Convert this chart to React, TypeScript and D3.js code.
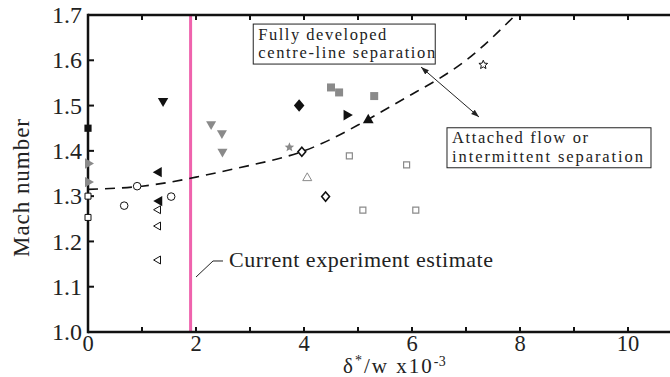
import React from "react";
import * as d3 from "d3";

// ---- axis ticks ----
const xTickValues = [0, 1, 2, 3, 4, 5, 6, 7, 8, 9, 10, 11];
const xTickLabels = ["0", "", "2", "", "4", "", "6", "", "8", "", "10", ""];
const yTickValues = [1.0, 1.1, 1.2, 1.3, 1.4, 1.5, 1.6, 1.7];
const yTickLabels = ["1.0", "1.1", "1.2", "1.3", "1.4", "1.5", "1.6", "1.7"];

// ---- separation boundary (dashed curve) ----
const curveX = [0, 1, 2, 3, 4, 5, 6, 7, 8];
const curveY = [1.315, 1.322, 1.342, 1.368, 1.4, 1.457, 1.525, 1.6, 1.71];

// ---- current experiment estimate ----
const currentEstimate = 1.9;

// ---- data series (x = delta*/w x1e-3, y = Mach) ----
const filledSquareBlack = [[0, 1.45]];
const grayRightTri = [[0, 1.372], [0, 1.331]];
const openSquareAxis = [[0, 1.3], [0, 1.253]];
const openCircle = [[0.67, 1.279], [0.91, 1.322], [1.54, 1.299]];
const filledDownTri = [[1.39, 1.51]];
const filledLeftTri = [[1.31, 1.353], [1.32, 1.289]];
const openLeftTri = [[1.3, 1.27], [1.3, 1.234], [1.3, 1.159]];
const grayDownTri = [[2.28, 1.459], [2.48, 1.439], [2.49, 1.398]];
const grayStar = [[3.73, 1.408]];
const filledDiamond = [[3.91, 1.5]];
const openDiamond = [[3.96, 1.398], [4.4, 1.299]];
const openGrayTriUp = [[4.06, 1.34]];
const graySquare = [[4.5, 1.54], [4.65, 1.529], [5.3, 1.521]];
const filledRightTri = [[4.79, 1.479]];
const filledUpTri = [[5.19, 1.468]];
const openGraySquare = [[4.84, 1.389], [5.9, 1.369], [5.09, 1.269], [6.07, 1.269]];
const openStar = [[7.32, 1.59]];

// ---- annotation anchors (data units) ----
const box1Anchor = [3.06, 1.68];
const box1Lines = ["Fully developed", "centre-line separation"];
const box1Widths = [128, 177];
const box2Anchor = [6.648, 1.451];
const box2Lines = ["Attached flow or", "intermittent separation"];
const box2Widths = [136, 191];
const arrowFrom = [6.167, 1.5851];
const arrowTo = [7.241, 1.4747];
const leaderPts = [[2.0, 1.1214], [2.315, 1.1568], [2.5, 1.1568]];
const leaderText = "Current experiment estimate";
const leaderTextAnchor = [2.611, 1.1435];

const W = 670;
const H = 377;
const FONT = "'Liberation Serif', 'DejaVu Serif', serif";
const BLACK = "#111";
const GRAY = "#8a8a8a";
const PINK = "#ef63ad";

const x = d3.scaleLinear().domain([0, 11]).range([88, 682]);
const y = d3.scaleLinear().domain([1.0, 1.7]).range([332, 15]);

type Shape =
  | "square"
  | "circle"
  | "diamond"
  | "triUp"
  | "triDown"
  | "triLeft"
  | "triRight"
  | "star";

function shapePath(shape: Shape, r: number): string {
  const pts = (arr: number[][]) =>
    "M" + arr.map((p) => `${p[0].toFixed(2)},${p[1].toFixed(2)}`).join("L") + "Z";
  const tri = (rot: number) => {
    const a = [-90, 30, 150].map((d) => ((d + rot) * Math.PI) / 180);
    return pts(a.map((t) => [r * Math.cos(t), r * Math.sin(t)]));
  };
  switch (shape) {
    case "square":
      return pts([[-r, -r], [r, -r], [r, r], [-r, r]]);
    case "circle":
      return `M${r},0A${r},${r} 0 1,1 ${-r},0A${r},${r} 0 1,1 ${r},0Z`;
    case "diamond":
      return pts([[0, -r], [r * 0.85, 0], [0, r], [-r * 0.85, 0]]);
    case "triUp":
      return tri(0);
    case "triRight":
      return tri(90);
    case "triDown":
      return tri(180);
    case "triLeft":
      return tri(270);
    case "star": {
      const arr: number[][] = [];
      for (let i = 0; i < 10; i++) {
        const rr = i % 2 === 0 ? r : r * 0.45;
        const t = (-90 + i * 36) * (Math.PI / 180);
        arr.push([rr * Math.cos(t), rr * Math.sin(t)]);
      }
      return pts(arr);
    }
  }
  return "";
}

interface SeriesStyle {
  data: number[][];
  shape: Shape;
  r: number;
  fill: string;
  stroke: string;
  sw: number;
}

const seriesList: SeriesStyle[] = [
  { data: openSquareAxis, shape: "square", r: 3, fill: "white", stroke: BLACK, sw: 1 },
  { data: filledSquareBlack, shape: "square", r: 3.6, fill: BLACK, stroke: "none", sw: 0 },
  { data: grayRightTri, shape: "triRight", r: 6, fill: GRAY, stroke: "none", sw: 0 },
  { data: openCircle, shape: "circle", r: 3.8, fill: "white", stroke: BLACK, sw: 1 },
  { data: filledDownTri, shape: "triDown", r: 6, fill: BLACK, stroke: "none", sw: 0 },
  { data: filledLeftTri, shape: "triLeft", r: 6, fill: BLACK, stroke: "none", sw: 0 },
  { data: openLeftTri, shape: "triLeft", r: 4.6, fill: "white", stroke: BLACK, sw: 1 },
  { data: grayDownTri, shape: "triDown", r: 5.8, fill: GRAY, stroke: "none", sw: 0 },
  { data: grayStar, shape: "star", r: 5, fill: GRAY, stroke: "none", sw: 0 },
  { data: filledDiamond, shape: "diamond", r: 6.2, fill: BLACK, stroke: "none", sw: 0 },
  { data: openDiamond, shape: "diamond", r: 4.6, fill: "white", stroke: BLACK, sw: 1.6 },
  { data: openGrayTriUp, shape: "triUp", r: 5.2, fill: "white", stroke: GRAY, sw: 1 },
  { data: graySquare, shape: "square", r: 4, fill: GRAY, stroke: "none", sw: 0 },
  { data: filledRightTri, shape: "triRight", r: 6.2, fill: BLACK, stroke: "none", sw: 0 },
  { data: filledUpTri, shape: "triUp", r: 6.2, fill: BLACK, stroke: "none", sw: 0 },
  { data: openGraySquare, shape: "square", r: 3, fill: "white", stroke: GRAY, sw: 1.2 },
  { data: openStar, shape: "star", r: 4.6, fill: "white", stroke: BLACK, sw: 1 },
];

const BOX_FONT = 16.5;
const BOX_LINE = 18.4;

function Box({
  anchor,
  lines,
  widths,
  w,
  h,
}: {
  anchor: number[];
  lines: string[];
  widths: number[];
  w: number;
  h: number;
}) {
  const bx = x(anchor[0]);
  const by = y(anchor[1]);
  return (
    <g>
      <rect x={bx} y={by} width={w} height={h} fill="white" stroke="#222" strokeWidth={1} />
      {lines.map((l, i) => (
        <text
          key={i}
          x={bx + 5}
          y={by + 15.5 + i * BOX_LINE}
          fontSize={BOX_FONT}
          fontFamily={FONT}
          fill="#222"
          textLength={widths[i]}
          lengthAdjust="spacing"
        >
          {l}
        </text>
      ))}
    </g>
  );
}

export default function App() {
  const line = d3
    .line<number>()
    .x((_, i) => x(curveX[i]))
    .y((d) => y(d))
    .curve(d3.curveNatural);
  const leader = d3
    .line<number[]>()
    .x((d) => x(d[0]))
    .y((d) => y(d[1]));

  const x0 = x(0);
  const xr = x(11);
  const yb = y(1.0);
  const yt = y(1.7);

  return (
    <div style={{ position: "absolute", left: 0, top: 0, width: W, height: H, overflow: "hidden" }}>
      <svg width={W} height={H} style={{ display: "block", background: "white" }}>
        <defs>
          <clipPath id="plot">
            <rect x={x0} y={yt} width={xr - x0} height={yb - yt} />
          </clipPath>
          <marker
            id="ah"
            viewBox="0 0 10 10"
            refX={10}
            refY={5}
            markerWidth={8}
            markerHeight={8}
            orient="auto-start-reverse"
          >
            <path d="M0,1.5 L10,5 L0,8.5 Z" fill="#222" />
          </marker>
        </defs>

        {/* current experiment estimate */}
        <line
          x1={x(currentEstimate)}
          x2={x(currentEstimate)}
          y1={yt}
          y2={yb}
          stroke={PINK}
          strokeWidth={3}
        />

        {/* dashed boundary curve */}
        <path
          d={line(curveY) || ""}
          fill="none"
          stroke={BLACK}
          strokeWidth={1.6}
          strokeDasharray="10,7"
          clipPath="url(#plot)"
        />

        {/* axes frame */}
        <line x1={x0} x2={xr} y1={yb} y2={yb} stroke={BLACK} strokeWidth={2.5} />
        <line x1={x0} x2={xr} y1={yt} y2={yt} stroke={BLACK} strokeWidth={2.5} />
        <line x1={x0} x2={x0} y1={yt - 1.2} y2={yb + 1.2} stroke={BLACK} strokeWidth={2.5} />
        <line x1={xr} x2={xr} y1={yt - 1.2} y2={yb + 1.2} stroke={BLACK} strokeWidth={2.5} />

        {/* x ticks */}
        {xTickValues.map((v, i) => (
          <g key={"xt" + i}>
            <line x1={x(v)} x2={x(v)} y1={yb} y2={yb - 5} stroke={BLACK} strokeWidth={2} />
            <line x1={x(v)} x2={x(v)} y1={yt} y2={yt + 5} stroke={BLACK} strokeWidth={2} />
            {xTickLabels[i] && (
              <text
                x={x(v)}
                y={yb + 19}
                textAnchor="middle"
                fontSize={22.5}
                fontFamily={FONT}
                fill="#222"
              >
                {xTickLabels[i]}
              </text>
            )}
          </g>
        ))}

        {/* y ticks */}
        {yTickValues.map((v, i) => (
          <g key={"yt" + i}>
            <line x1={x0} x2={x0 + 6} y1={y(v)} y2={y(v)} stroke={BLACK} strokeWidth={2} />
            <line x1={xr} x2={xr - 6} y1={y(v)} y2={y(v)} stroke={BLACK} strokeWidth={2} />
            <text
              x={x0 - 6}
              y={y(v)}
              dy="0.34em"
              textAnchor="end"
              fontSize={24}
              fontFamily={FONT}
              fill="#222"
            >
              {yTickLabels[i]}
            </text>
          </g>
        ))}

        {/* axis titles */}
        <text
          transform={`translate(29, 188) rotate(-90)`}
          textAnchor="middle"
          fontSize={23}
          fontFamily={FONT}
          fill="#222"
          textLength={138}
          lengthAdjust="spacing"
        >
          Mach number
        </text>
        <text x={343} y={373} fontSize={21} fontFamily={FONT} fill="#222" letterSpacing={2}>
          δ
          <tspan fontSize={14} dy={-8}>
            *
          </tspan>
          <tspan dy={8}>/w x10</tspan>
          <tspan fontSize={14} dy={-7} letterSpacing={0.5}>
            -3
          </tspan>
        </text>

        {/* markers */}
        {seriesList.map((s, si) =>
          s.data.map((d, di) => (
            <path
              key={`m${si}-${di}`}
              d={shapePath(s.shape, s.r)}
              transform={`translate(${x(d[0])},${y(d[1])})`}
              fill={s.fill}
              stroke={s.stroke}
              strokeWidth={s.sw}
            />
          ))
        )}

        {/* annotations */}
        <Box anchor={box1Anchor} lines={box1Lines} widths={box1Widths} w={182} h={40} />
        <Box anchor={box2Anchor} lines={box2Lines} widths={box2Widths} w={204} h={40} />
        <line
          x1={x(arrowFrom[0])}
          y1={y(arrowFrom[1])}
          x2={x(arrowTo[0])}
          y2={y(arrowTo[1])}
          stroke="#222"
          strokeWidth={1}
          markerStart="url(#ah)"
          markerEnd="url(#ah)"
        />
        <path d={leader(leaderPts) || ""} fill="none" stroke="#222" strokeWidth={1} />
        <text
          x={x(leaderTextAnchor[0])}
          y={y(leaderTextAnchor[1])}
          fontSize={22}
          fontFamily={FONT}
          fill="#222"
          textLength={264}
          lengthAdjust="spacing"
        >
          {leaderText}
        </text>
      </svg>
    </div>
  );
}
